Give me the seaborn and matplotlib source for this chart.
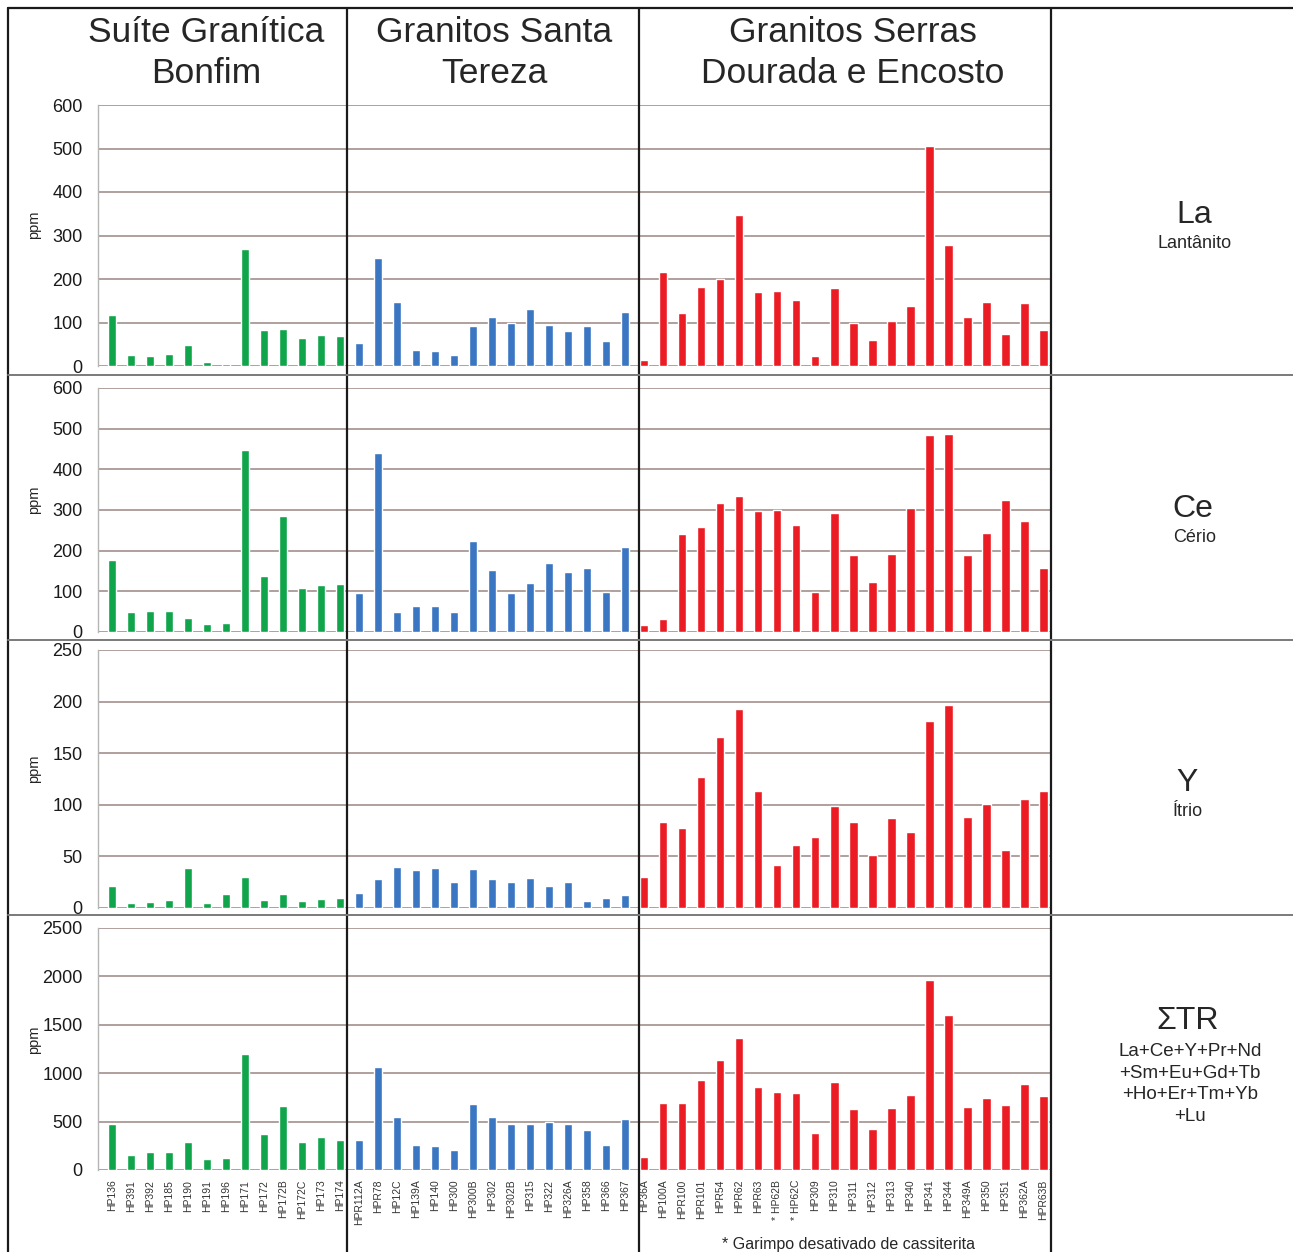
import matplotlib
matplotlib.use("Agg")
import matplotlib.pyplot as plt
from matplotlib.lines import Line2D
import pandas as pd
import seaborn as sns

# --- samples by granite group ---------------------------------------------
samples_bonfim = ["HP136", "HP391", "HP392", "HP185", "HP190", "HP191", "HP196",
                  "HP171", "HP172", "HP172B", "HP172C", "HP173", "HP174"]
samples_tereza = ["HPR112A", "HPR78", "HP12C", "HP139A", "HP140", "HP300", "HP300B",
                  "HP302", "HP302B", "HP315", "HP322", "HP326A", "HP358", "HP366", "HP367"]
samples_serras = ["HP36A", "HP100A", "HPR100", "HPR101", "HPR54", "HPR62", "HPR63",
                  "* HP62B", "* HP62C", "HP309", "HP310", "HP311", "HP312", "HP313",
                  "HP340", "HP341", "HP344", "HP349A", "HP350", "HP351", "HP362A", "HPR63B"]

# --- concentrations (ppm) --------------------------------------------------
la_bonfim = [117, 25, 23, 27, 48, 10, 5, 269, 82, 85, 65, 72, 69]
la_tereza = [54, 248, 146, 36, 35, 25, 92, 112, 100, 131, 95, 80, 92, 58, 123]
la_serras = [13, 217, 121, 182, 200, 347, 169, 172, 152, 23, 179, 98, 59, 103,
             138, 505, 278, 112, 148, 74, 145, 82]

ce_bonfim = [178, 50, 51, 51, 34, 19, 22, 447, 138, 285, 109, 116, 119]
ce_tereza = [95, 441, 50, 63, 64, 49, 223, 152, 95, 120, 170, 148, 157, 98, 208]
ce_serras = [18, 33, 240, 259, 318, 334, 297, 300, 263, 99, 292, 189, 123, 191,
             306, 485, 488, 189, 243, 325, 273, 157]

y_bonfim = [21, 5, 6, 8, 39, 5, 14, 30, 8, 14, 7, 9, 10]
y_tereza = [15, 28, 40, 37, 39, 25, 38, 28, 25, 29, 21, 25, 7, 10, 13]
y_serras = [30, 83, 78, 127, 166, 193, 113, 42, 61, 69, 99, 83, 51, 87,
            74, 181, 197, 88, 101, 56, 106, 113]

tr_bonfim = [480, 155, 185, 185, 290, 115, 125, 1200, 370, 660, 290, 340, 310]
tr_tereza = [310, 1065, 550, 260, 250, 205, 680, 550, 475, 475, 495, 475, 410, 260, 525]
tr_serras = [135, 690, 690, 930, 1135, 1365, 860, 805, 795, 380, 910, 630, 425, 640,
             775, 1960, 1600, 650, 745, 670, 890, 765]

groups = ["Suíte Granítica Bonfim", "Granitos Santa Tereza",
          "Granitos Serras Dourada e Encosto"]
group_colors = ["#10a54a", "#3b76c3", "#ec1c24"]

# --- tidy table -------------------------------------------------------------
samples = samples_bonfim + samples_tereza + samples_serras
suite = ([groups[0]] * len(samples_bonfim) + [groups[1]] * len(samples_tereza)
         + [groups[2]] * len(samples_serras))
df = pd.DataFrame({
    "amostra": samples,
    "suite": suite,
    "La": la_bonfim + la_tereza + la_serras,
    "Ce": ce_bonfim + ce_tereza + ce_serras,
    "Y": y_bonfim + y_tereza + y_serras,
    "TR": tr_bonfim + tr_tereza + tr_serras,
})

sns.set_theme(style="white")
plt.rcParams["font.family"] = ["Liberation Sans", "DejaVu Sans"]

W, H = 1293, 1252
fig = plt.figure(figsize=(W / 100, H / 100), dpi=100)
fig.patch.set_facecolor("white")


def fx(px):
    return px / W


def fy(py):
    return 1 - py / H


# panel: column, y-limit, tick step, plot-area top/bottom in pixels
panels = [
    ("La", 600, 100, 105, 366),
    ("Ce", 600, 100, 388, 632),
    ("Y", 250, 50, 650, 908),
    ("TR", 2500, 500, 928, 1170),
]
x_left, x_right = 98, 1051
grid_color = "#9a8583"

for i, (col, ymax, step, top, bottom) in enumerate(panels):
    ax = fig.add_axes([fx(x_left), fy(bottom), fx(x_right) - fx(x_left),
                       fy(top) - fy(bottom)])
    sns.barplot(data=df, x="amostra", y=col, hue="suite", order=samples,
                hue_order=groups, palette=group_colors, width=0.44,
                dodge=False, legend=False, saturation=1, ax=ax)
    ax.set_xlim(-0.74, 49.4)
    ax.set_ylim(0, ymax)
    ax.set_yticks(range(0, ymax + 1, step))
    ax.set_facecolor("none")
    ax.yaxis.grid(True, color=grid_color, lw=1.1)
    ax.set_axisbelow(True)
    for s in ("top", "right", "bottom"):
        ax.spines[s].set_visible(False)
    ax.spines["left"].set_color("#b5b5b5")
    ax.spines["left"].set_linewidth(1.0)
    ax.tick_params(axis="y", length=10, color=grid_color, width=1.0,
                   labelsize=13, pad=1, labelcolor="#1a1a1a")
    ax.set_ylabel("ppm", fontsize=10.5, color="#222222")
    ax.yaxis.set_label_coords(-0.06, 0.54)
    ax.set_xlabel("")
    if col == "TR":
        ax.tick_params(axis="x", length=0, labelsize=7.5, pad=7,
                       labelcolor="#333333", rotation=90)
    else:
        ax.tick_params(axis="x", length=0, labelbottom=False)

# frame and group dividers
line_kw = dict(transform=fig.transFigure, color="#1a1a1a", lw=1.6)
for px in (8, 347, 639, 1051):
    fig.add_artist(Line2D([fx(px), fx(px)], [fy(8), fy(1252)], **line_kw))
fig.add_artist(Line2D([fx(8), fx(1293)], [fy(8), fy(8)], **line_kw))
for py in (375, 640, 915):
    fig.add_artist(Line2D([fx(8), fx(1293)], [fy(py), fy(py)],
                          transform=fig.transFigure, color="#7a7a7a", lw=1.4))

# group titles
title_kw = dict(ha="center", va="center", fontsize=25.5, color="#262626",
                linespacing=1.3)
fig.text(fx(206), fy(53), "Suíte Granítica\nBonfim", **title_kw)
fig.text(fx(494), fy(53), "Granitos Santa\nTereza", **title_kw)
fig.text(fx(853), fy(53), "Granitos Serras\nDourada e Encosto", **title_kw)

# element labels on the right
big = dict(ha="center", va="center", fontsize=23, color="#262626")
small = dict(ha="center", va="center", fontsize=13, color="#262626")
fig.text(fx(1194), fy(215), "La", **big)
fig.text(fx(1195), fy(243), "Lantânito", **small)
fig.text(fx(1193), fy(509), "Ce", **big)
fig.text(fx(1195), fy(537), "Cério", **small)
fig.text(fx(1187), fy(783), "Y", **big)
fig.text(fx(1188), fy(811), "Ítrio", **small)
fig.text(fx(1188), fy(1021), "\u03a3TR", **big)
fig.text(fx(1190), fy(1084), "La+Ce+Y+Pr+Nd\n+Sm+Eu+Gd+Tb\n+Ho+Er+Tm+Yb\n+Lu",
         ha="center", va="center", fontsize=13.5, color="#262626", linespacing=1.36)

fig.text(fx(722), fy(1245), "* Garimpo desativado de cassiterita",
         ha="left", va="center", fontsize=11.5, color="#262626")

fig.savefig("out.png", dpi=100, facecolor="white")
